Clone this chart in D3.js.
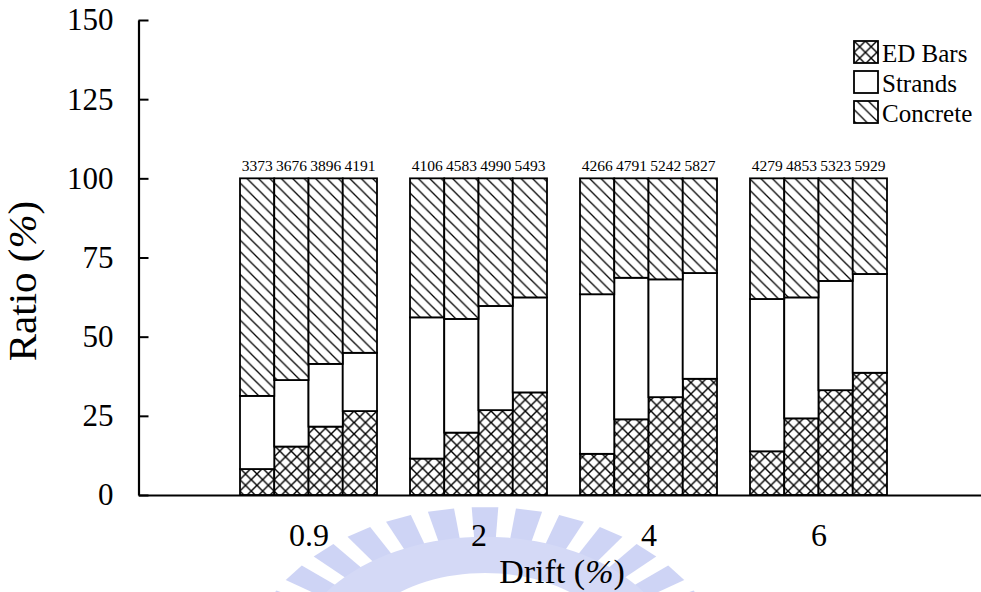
<!DOCTYPE html>
<html><head><meta charset="utf-8">
<script src="https://cdn.jsdelivr.net/npm/d3@7"></script>
<style>
body{margin:0;background:#fff}
svg{display:block}
svg text{font-family:'Liberation Serif','Tinos','Times New Roman','Times','Nimbus Roman','DejaVu Serif',serif !important;fill:#000}
</style>
</head><body>
<svg id="c" width="981" height="592"></svg>
<script>
// ---------- data ----------
const drifts = ["0.9", "2", "4", "6"];
const specimens = [0, 1, 2, 3];
const seriesNames = ["ED Bars", "Strands", "Concrete"];
const edBars   = [[8.2, 15.3, 21.6, 26.5], [11.5, 19.7, 26.8, 32.4], [13.0, 23.9, 30.9, 36.7], [13.8, 24.2, 33.1, 38.6]];
const strands  = [[23.1, 21.0, 19.8, 18.4], [44.6, 35.9, 32.9, 30.0], [50.4, 44.7, 37.2, 33.4], [48.1, 38.2, 34.5, 31.2]];
const concrete = [[68.7, 63.7, 58.6, 55.1], [43.9, 44.4, 40.3, 37.6], [36.6, 31.4, 31.9, 29.9], [38.1, 37.6, 32.4, 30.2]];
const totals   = [[3373, 3676, 3896, 4191], [4106, 4583, 4990, 5493], [4266, 4791, 5242, 5827], [4279, 4853, 5323, 5929]];
const yTicks = [0, 25, 50, 75, 100, 125, 150];

// ---------- setup ----------
const svg = d3.select("#c");
const y = d3.scaleLinear().domain([0, 150]).range([495, 20]);
const xGroup = d3.scalePoint().domain(["", ...drifts, " "]).range([138.5, 988.5]);
const xIn = d3.scaleBand().domain(specimens).range([-68.5, 68.5]);

const rows = [];
drifts.forEach((d, g) => specimens.forEach((s, i) => rows.push({
  drift: d, spec: s, total: totals[g][i],
  "ED Bars": edBars[g][i], "Strands": strands[g][i], "Concrete": concrete[g][i]
})));
const stacked = d3.stack().keys(seriesNames)(rows);

// ---------- patterns ----------
const defs = svg.append("defs");
const t = 11.42;
const pc = defs.append("pattern").attr("id", "cross").attr("patternUnits", "userSpaceOnUse")
  .attr("width", t).attr("height", t);
pc.append("rect").attr("width", t).attr("height", t).attr("fill", "#fff");
pc.append("path").attr("d", `M0,0L${t},${t}M${t},0L0,${t}`).attr("stroke", "#000").attr("stroke-width", 1.4);
const pd = defs.append("pattern").attr("id", "diag").attr("patternUnits", "userSpaceOnUse")
  .attr("width", t).attr("height", t);
pd.append("rect").attr("width", t).attr("height", t).attr("fill", "#fff");
pd.append("path").attr("d", `M0,0L${t},${t}M${-t/2},${t/2}L${t/2},${t*1.5}M${t/2},${-t/2}L${t*1.5},${t/2}`)
  .attr("stroke", "#000").attr("stroke-width", 1.3);
const fills = {"ED Bars": "url(#cross)", "Strands": "#fff", "Concrete": "url(#diag)"};

// ---------- faint watermark (decorative) ----------
const wm = svg.append("g").attr("opacity", 0.38);
const wcx = 485, wcy = 672, wrx = 240, wry = 165;
const ep = (a, s) => [wcx + wrx * s * Math.cos(a), wcy + wry * s * Math.sin(a)];
const nT = 17;
d3.range(nT).forEach(i => {
  const a0 = Math.PI * (1 + (i + 0.2) / nT), a1 = Math.PI * (1 + (i + 0.8) / nT);
  const pts = [ep(a0, 0.8), ep(a0, 1), ep(a1, 1), ep(a1, 0.8)];
  wm.append("path").attr("d", "M" + pts.join("L") + "Z").attr("fill", "#7f8fe6");
});
const band = d3.range(0, 61).map(k => ep(Math.PI * (1 + k / 60), 0.82))
  .concat(d3.range(60, -1, -1).map(k => ep(Math.PI * (1 + k / 60), 0.6)));
wm.append("path").attr("d", "M" + band.join("L") + "Z").attr("fill", "#8f9dea");

// ---------- bars ----------
const gBars = svg.append("g");
stacked.forEach(layer => {
  gBars.selectAll(null).data(layer).join("rect")
    .attr("x", d => xGroup(d.data.drift) + xIn(d.data.spec))
    .attr("width", xIn.bandwidth())
    .attr("y", d => y(d[1]))
    .attr("height", d => y(d[0]) - y(d[1]))
    .attr("fill", fills[layer.key])
    .attr("stroke", "#000").attr("stroke-width", 1.8);
});

// totals above bars
svg.append("g").selectAll("text").data(rows).join("text")
  .attr("x", d => xGroup(d.drift) + xIn(d.spec) + xIn.bandwidth() / 2)
  .attr("y", y(100) - 7)
  .attr("text-anchor", "middle").attr("font-size", 15.5)
  .text(d => d.total);

// ---------- axes ----------
const ya = svg.append("g").attr("transform", "translate(138.5,0)")
  .call(d3.axisLeft(y).tickValues(yTicks).tickSize(-10).tickSizeOuter(0).tickPadding(25));
ya.select(".domain").attr("stroke-width", 2.2);
ya.selectAll(".tick line").attr("stroke-width", 2);
ya.selectAll(".tick text").attr("font-size", 31);

const xa = svg.append("g").attr("transform", "translate(0,495)")
  .call(d3.axisBottom(xGroup).tickValues(drifts).tickSize(0).tickPadding(28));
xa.select(".domain").attr("stroke-width", 2.2);
xa.selectAll(".tick text").attr("font-size", 32);

// axis titles
const yt = svg.append("text").attr("transform", "translate(36,281) rotate(-90)")
  .attr("text-anchor", "middle").attr("font-size", 41);
yt.append("tspan").text("Ratio (");
yt.append("tspan").attr("font-style", "italic").text("%");
yt.append("tspan").text(")");

const xt = svg.append("text").attr("x", 562).attr("y", 583)
  .attr("text-anchor", "middle").attr("font-size", 34);
xt.append("tspan").text("Drift (");
xt.append("tspan").attr("font-style", "italic").text("%");
xt.append("tspan").text(")");

// ---------- legend ----------
const lg = svg.append("g").attr("transform", "translate(854,41)");
seriesNames.forEach((s, i) => {
  lg.append("rect").attr("x", 0).attr("y", i * 30).attr("width", 24).attr("height", 22)
    .attr("fill", fills[s]).attr("stroke", "#000").attr("stroke-width", 1.8);
  lg.append("text").attr("x", 28).attr("y", i * 30 + 21).attr("font-size", 25).text(s);
});
</script>
</body></html>
